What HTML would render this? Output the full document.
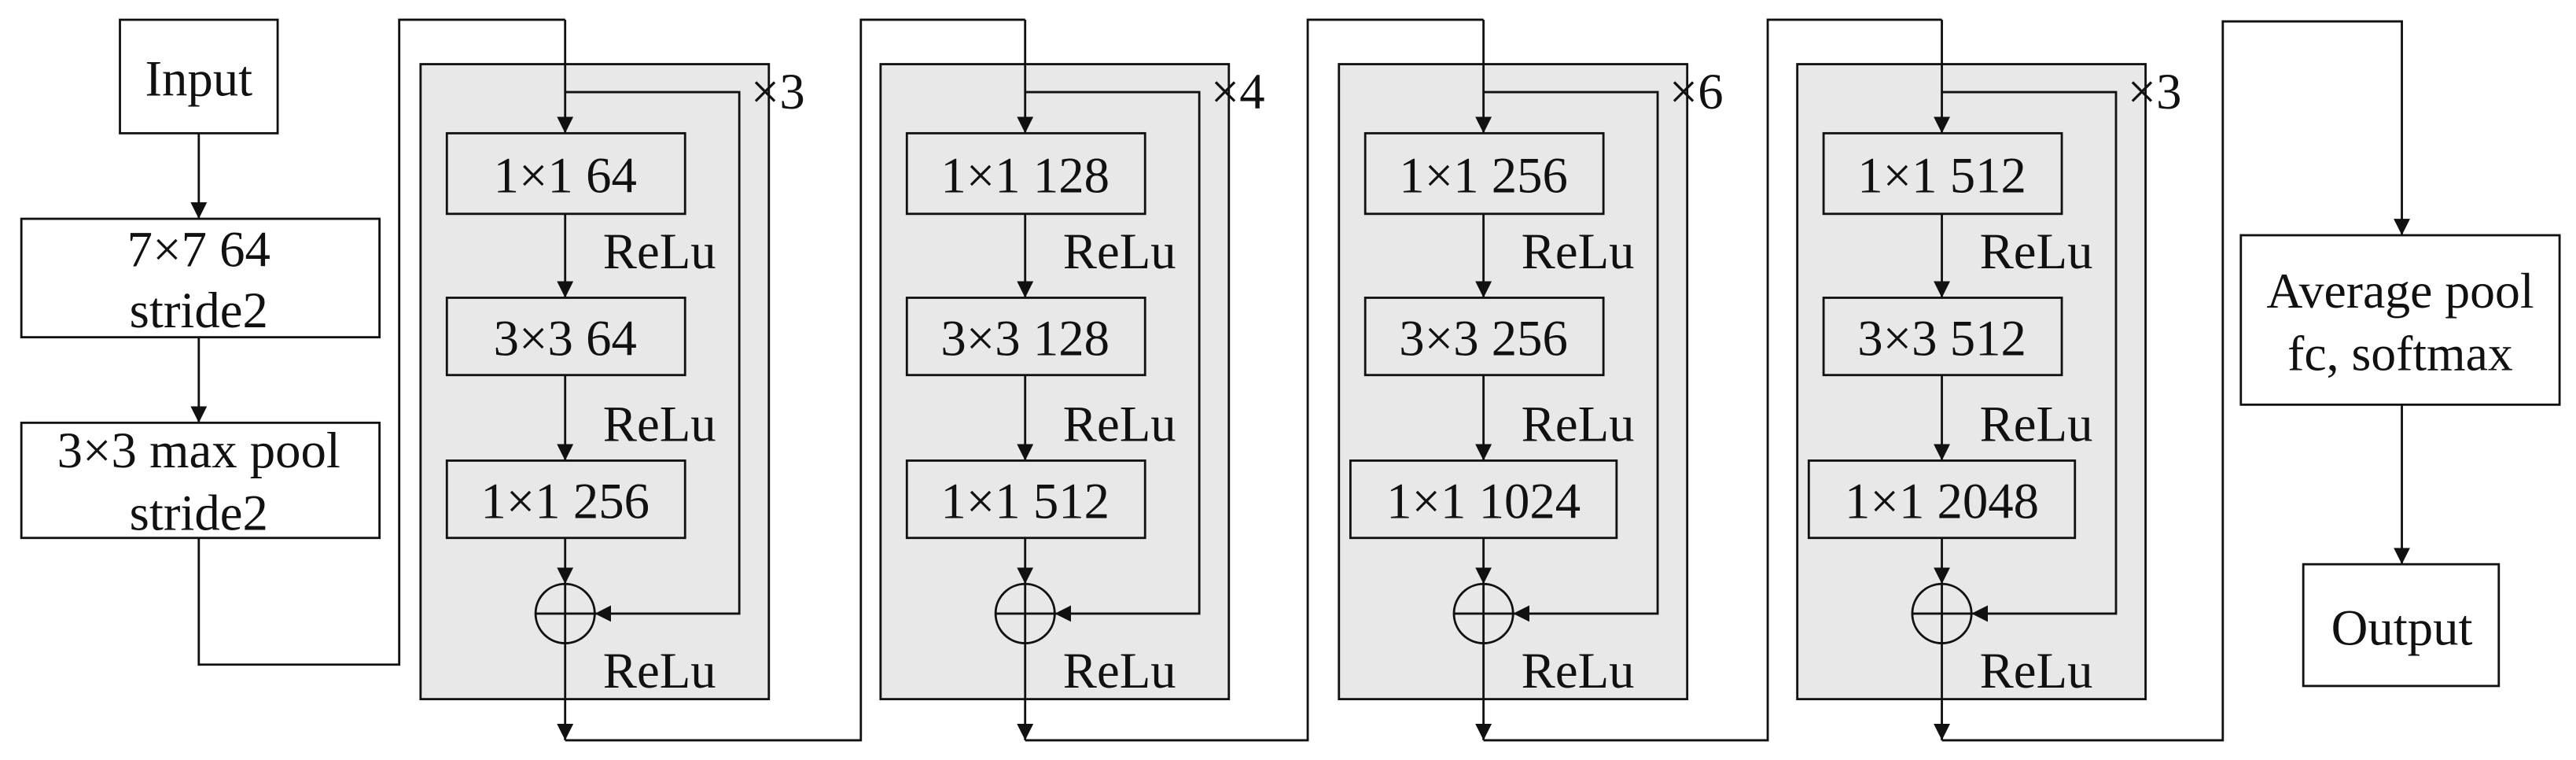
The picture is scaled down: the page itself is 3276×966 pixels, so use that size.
<!DOCTYPE html>
<html><head><meta charset="utf-8"><style>
html,body{margin:0;padding:0;background:#fff;}
svg{display:block;}
text{font-family:"Liberation Serif",serif;font-size:31px;fill:#111;}
</style></head><body>
<svg width="3276" height="966" viewBox="0 0 1568 462" preserveAspectRatio="none" xmlns="http://www.w3.org/2000/svg">
<defs>
<marker id="a" viewBox="0 0 10 10" refX="10" refY="5" markerWidth="10" markerHeight="10" markerUnits="userSpaceOnUse" orient="auto">
<path d="M0,0 L10,5 L0,10 z" fill="#111"/></marker>
<g id="blk">
<rect x="256" y="39" width="212" height="386" fill="#e8e8e8"/>
<line x1="344" y1="12" x2="344" y2="81" marker-end="url(#a)"/>
<polyline points="344,56 450,56 450,373 362,373" marker-end="url(#a)"/>
<line x1="344" y1="130" x2="344" y2="181" marker-end="url(#a)"/>
<line x1="344" y1="228" x2="344" y2="280" marker-end="url(#a)"/>
<line x1="344" y1="327" x2="344" y2="355" marker-end="url(#a)"/>
<circle cx="344" cy="373" r="18"/>
<line x1="326" y1="373" x2="362" y2="373"/>
<line x1="344" y1="355" x2="344" y2="450" marker-end="url(#a)"/>
<rect x="272" y="81" width="145" height="49" fill="#e8e8e8"/>
<rect x="272" y="181" width="145" height="47" fill="#e8e8e8"/>
</g>
</defs>
<g stroke="#111" stroke-width="1.35" fill="none">
<rect x="73" y="12" width="96" height="69" fill="#fff"/>
<line x1="121" y1="81" x2="121" y2="133" marker-end="url(#a)"/>
<rect x="13" y="133" width="218" height="72" fill="#fff"/>
<line x1="121" y1="205" x2="121" y2="257" marker-end="url(#a)"/>
<rect x="13" y="257" width="218" height="70" fill="#fff"/>
<polyline points="121,327 121,404 243,404 243,12 344,12"/>

<use href="#blk"/>
<rect x="272" y="280" width="145" height="47" fill="#e8e8e8"/>
<polyline points="344,450 524,450 524,12 624,12"/>

<use href="#blk" transform="translate(280,0)"/>
<rect x="552" y="280" width="145" height="47" fill="#e8e8e8"/>
<polyline points="624,450 796,450 796,12 903,12"/>

<use href="#blk" transform="translate(559,0)"/>
<rect x="822" y="280" width="162" height="47" fill="#e8e8e8"/>
<polyline points="903,450 1076,450 1076,12 1182,12"/>

<use href="#blk" transform="translate(838,0)"/>
<rect x="1101" y="280" width="162" height="47" fill="#e8e8e8"/>
<polyline points="1182,450 1353,450 1353,13 1462,13 1462,143" marker-end="url(#a)"/>

<rect x="1364" y="143" width="194" height="103" fill="#fff"/>
<line x1="1462" y1="246" x2="1462" y2="343" marker-end="url(#a)"/>
<rect x="1402" y="343" width="119" height="74" fill="#fff"/>
</g>

<g text-anchor="middle">
<text x="121" y="58">Input</text>
<text x="121" y="162">7×7 64</text>
<text x="121" y="199">stride2</text>
<text x="121" y="284">3×3 max pool</text>
<text x="121" y="322">stride2</text>

<text x="344" y="117">1×1 64</text>
<text x="344" y="216">3×3 64</text>
<text x="344" y="315">1×1 256</text>

<text x="624" y="117">1×1 128</text>
<text x="624" y="216">3×3 128</text>
<text x="624" y="315">1×1 512</text>

<text x="903" y="117">1×1 256</text>
<text x="903" y="216">3×3 256</text>
<text x="903" y="315">1×1 1024</text>

<text x="1182" y="117">1×1 512</text>
<text x="1182" y="216">3×3 512</text>
<text x="1182" y="315">1×1 2048</text>

<text x="1461" y="187" style="font-size:30.5px">Average pool</text>
<text x="1461" y="225" style="font-size:30.5px">fc, softmax</text>
<text x="1462" y="392">Output</text>
</g>

<g>
<text x="367" y="163">ReLu</text><text x="367" y="268">ReLu</text><text x="367" y="418">ReLu</text>
<text x="647" y="163">ReLu</text><text x="647" y="268">ReLu</text><text x="647" y="418">ReLu</text>
<text x="926" y="163">ReLu</text><text x="926" y="268">ReLu</text><text x="926" y="418">ReLu</text>
<text x="1205" y="163">ReLu</text><text x="1205" y="268">ReLu</text><text x="1205" y="418">ReLu</text>
<text x="457" y="66">×3</text><text x="737" y="66">×4</text><text x="1016" y="66">×6</text><text x="1295" y="66">×3</text>
</g>
</svg>
</body></html>
